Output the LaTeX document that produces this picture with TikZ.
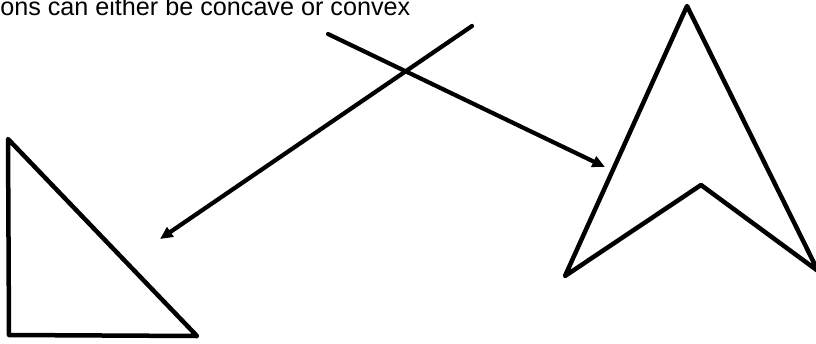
\documentclass[tikz,border=0pt]{standalone}
\usepackage{fontspec}
\setmainfont{Liberation Sans}
\usetikzlibrary{arrows.meta}
\begin{document}
\begin{tikzpicture}[x=.025cm,y=-.025cm,line cap=round,line join=round,
  kante/.style={draw=black,line width=3.2pt},
  zeiger/.style={draw=black,line width=3pt,-{Triangle[length=9pt,width=8pt]}},
  titel/.style={font=\fontsize{17.9}{21}\selectfont,anchor=base west,inner sep=0pt}]
\useasboundingbox (0,0) rectangle (816,343);
\node[titel] (titel) at (0,15){ons can either be concave or convex};
% Konvexes Dreieck links, konkaver Pfeil rechts.
\path[kante] (8,139)--(9,335)--(197,336)--cycle;
\path[kante] (687,6)--(565,276)--(701,185)--(818,271)--cycle;
% Zwei sich kreuzende Zeiger.
\coordinate (start1) at (472,26);
\coordinate (ziel1) at (160,239);
\coordinate (start2) at (328,34);
\coordinate (ziel2) at (605,167);
\draw[zeiger] (start1)--(ziel1);
\draw[zeiger] (start2)--(ziel2);
\end{tikzpicture}
\end{document}
